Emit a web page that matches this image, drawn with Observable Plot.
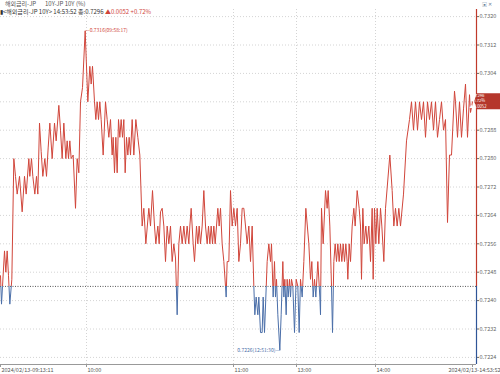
<!DOCTYPE html>
<html><head><meta charset="utf-8">
<script src="https://cdn.jsdelivr.net/npm/d3@7"></script>
<script src="https://cdn.jsdelivr.net/npm/@observablehq/plot@0.6"></script>
<style>
body{margin:0;background:#fff;font-family:"Noto Sans CJK KR","Noto Sans",sans-serif;}
#wrap{position:relative;width:500px;height:374px;overflow:hidden;}
.hdr{position:absolute;font-size:6px;color:#555;white-space:nowrap;line-height:7px;}
.up{color:#d0453a;}
</style></head><body>
<div id="wrap">
  <div class="hdr" style="left:5px;top:0px;">해외금리-JP</div>
  <div class="hdr" style="left:45px;top:0px;">10Y-JP 10Y (%)</div>
  <div class="hdr" style="left:0px;top:8px;color:#333;">▮&lt;해외금리-JP 10Y&gt; 14:53:52 종:0.7296 <span class="up">▲0.0052</span> <span class="up">+0.72%</span></div>
  <div class="hdr" style="left:482px;top:0px;color:#6a7f99;font-size:5px;">▣ ✕</div>
</div>
<script>
// tick sequence number (order of quotes along the ordinal time axis)
const seq = [0,3,6,12,16,20,24,28,34,40,45,50,57,65,72,77,85,88,93,97,103,108,112,117,122,127,133,138,143,148,155,162,167,175,180,185,190,196,200,204,208,212,218,225,230,235,
240,246,254,262,268,272,276,282,286,290,294,298,302,308,315,320,325,330,335,338,342,346,350,354,358,362,366,370,374,378,382,386,390,395,400,406,412,418,425,430,436,445,450,456,462,466,472,476,
480,485,490,495,500,505,510,515,520,525,530,535,540,545,550,555,560,565,568,572,578,582,588,592,596,600,605,610,615,620,624,628,632,636,640,644,648,652,656,660,665,670,675,677,680,685,690,695,700,705,710,715,
720,725,730,735,740,745,750,755,760,763,767,772,775,780,785,788,792,800,805,810,813,818,822,825,828,832,838,842,847,850,853,857,860,863,867,870,873,877,882,887,892,896,900,905,910,916,925,930,934,938,942,946,952,958,
960,963,968,975,980,983,988,993,996,1000,1004,1008,1012,1016,1020,1024,1028,1032,1036,1040,1042,1046,1050,1055,1060,1064,1070,1076,1080,1083,1087,1091,1096,1100,1105,1110,1115,1118,1122,1126,1130,1135,1140,1144,1150,1155,1168,1175,1180,1185,1190,1195,1200,
1209,1218,1227,1233,1239,1245,1251,1257,1263,1269,1275,1281,1287,1293,1299,1305,1311,1317,1323,1329,1335,1341,1347,1353,1362,1365,1371,1377,1383,1389,1395,1401,1407,1410,1416];
// 10Y yield (%)
const yieldVals = [0.7247,0.7239,0.7244,0.7254,0.7248,0.7254,0.7247,0.7239,0.7246,0.7280,0.7275,0.7270,0.7275,0.7265,0.7275,0.7270,0.7280,0.7275,0.7280,0.7275,0.7270,0.7275,0.7270,0.7290,0.7282,0.7275,0.7280,0.7275,0.7283,0.7290,0.7280,0.7290,0.7285,0.7295,0.7288,0.7280,0.7290,0.7280,0.7285,0.7280,0.7285,0.7280,0.7281,0.7266,0.7280,0.7276,
0.7296,0.7300,0.7316,0.7296,0.7306,0.7301,0.7306,0.7296,0.7291,0.7296,0.7291,0.7296,0.7291,0.7281,0.7296,0.7291,0.7286,0.7291,0.7281,0.7286,0.7276,0.7286,0.7276,0.7291,0.7286,0.7291,0.7286,0.7291,0.7276,0.7286,0.7281,0.7286,0.7281,0.7291,0.7281,0.7291,0.7286,0.7281,0.7261,0.7266,0.7256,0.7266,0.7261,0.7271,0.7261,0.7256,0.7261,0.7256,
0.7265,0.7266,0.7261,0.7251,0.7261,0.7256,0.7261,0.7251,0.7256,0.7252,0.7236,0.7256,0.7261,0.7256,0.7261,0.7256,0.7261,0.7256,0.7261,0.7266,0.7256,0.7251,0.7261,0.7256,0.7261,0.7256,0.7261,0.7271,0.7261,0.7256,0.7261,0.7256,0.7261,0.7256,0.7261,0.7256,0.7261,0.7266,0.7261,0.7266,0.7256,0.7251,0.7244,0.7241,0.7251,0.7251,0.7271,0.7261,0.7266,0.7261,0.7266,0.7251,
0.7256,0.7266,0.7266,0.7261,0.7256,0.7261,0.7251,0.7261,0.7244,0.7236,0.7241,0.7236,0.7241,0.7231,0.7231,0.7241,0.7231,0.7251,0.7256,0.7251,0.7256,0.7241,0.7251,0.7241,0.7246,0.7236,0.7226,0.7236,0.7251,0.7241,0.7246,0.7236,0.7246,0.7241,0.7246,0.7241,0.7246,0.7244,0.7231,0.7246,0.7244,0.7231,0.7246,0.7241,0.7251,0.7266,0.7256,0.7246,0.7251,0.7241,0.7246,0.7241,0.7251,0.7241,
0.7236,0.7266,0.7256,0.7271,0.7266,0.7271,0.7261,0.7244,0.7231,0.7251,0.7256,0.7251,0.7256,0.7251,0.7256,0.7251,0.7256,0.7251,0.7256,0.7251,0.7246,0.7256,0.7251,0.7261,0.7266,0.7261,0.7271,0.7266,0.7261,0.7246,0.7266,0.7256,0.7261,0.7256,0.7261,0.7251,0.7266,0.7246,0.7266,0.7256,0.7266,0.7256,0.7266,0.7261,0.7251,0.7266,0.7281,0.7271,0.7261,0.7266,0.7261,0.7266,0.7261,
0.7270,0.7285,0.7291,0.7296,0.7288,0.7296,0.7288,0.7296,0.7291,0.7296,0.7286,0.7296,0.7291,0.7296,0.7288,0.7296,0.7286,0.7291,0.7296,0.7288,0.7291,0.7262,0.7281,0.7281,0.7299,0.7296,0.7286,0.7296,0.7286,0.7294,0.7301,0.7286,0.7298,0.7293,0.7296];

const prevClose = 0.7244;
const lastInfo = ["0.7296", "+0.72%", "▲0.0052"];
const maxTime = "09:58:17";
const minTime = "12:51:30";
const xTickSeq = [0, 258, 699, 888, 1125, 1416];
const xTickLabels = ["2024/02/13-09:13:11", "10:00", "11:00", "13:00", "14:00", "2024/02/13-14:53:52"];
const yTicks = [0.7224, 0.7232, 0.7240, 0.7248, 0.7256, 0.7264, 0.7272, 0.7280, 0.7288, 0.7296, 0.7304, 0.7312, 0.7320];

const RED = "#d0453a", BLUE = "#4a6ea8", AXRED = "#c0392b", AXBLUE = "#2f5597";
const data = seq.map((s, i) => ({s, v: yieldVals[i]}));
const iMax = d3.maxIndex(yieldVals), iMin = d3.minIndex(yieldVals);
const lastV = yieldVals[yieldVals.length - 1];
const xMax = 1428, yLo = 0.7222, yHi = 0.7322;
const fmt = d3.format(".4f");
// the current-value badge hides the tick label it sits on
const labelTicks = yTicks.filter(t => Math.abs(t - lastV) > 0.0003);

const plot = Plot.plot({
  width: 500, height: 374,
  marginLeft: 0, marginRight: 24, marginTop: 9, marginBottom: 10,
  x: {domain: [0, xMax], axis: null},
  y: {domain: [yLo, yHi], axis: null},
  style: {fontFamily: "'Noto Sans CJK KR','Noto Sans',sans-serif", fontSize: "5.5px", background: "transparent", overflow: "visible"},
  marks: [
    Plot.ruleY(yTicks, {stroke: "#d4d4d4", strokeDasharray: "1,2"}),
    Plot.ruleX(xTickSeq.slice(1, 5), {stroke: "#d4d4d4", strokeDasharray: "1,2"}),
    Plot.ruleY([prevClose], {stroke: "#555", strokeDasharray: "1,1.5"}),
    Plot.line(data, {x: "s", y: "v", stroke: "url(#splitGrad)", strokeWidth: 1}),
    // right axis line, coloured above/below previous close
    Plot.ruleX([xMax], {y1: prevClose, y2: yHi, stroke: AXRED, strokeWidth: 1.2}),
    Plot.ruleX([xMax], {y1: yLo, y2: prevClose, stroke: AXBLUE, strokeWidth: 1.2}),
    Plot.axisY(labelTicks, {anchor: "right", tickSize: 2, tickPadding: 1, tickFormat: fmt, color: "#666", fontSize: 5.5, label: null}),
    // bottom axis
    Plot.ruleY([yLo], {stroke: "#999"}),
    Plot.axisX(xTickSeq, {anchor: "bottom", tickSize: 3, tickFormat: () => "", stroke: "#999", label: null}),
    Plot.text(xTickSeq.slice(0, 5), {x: d => d, y: yLo, text: (d, i) => xTickLabels[i], textAnchor: "start", dy: 6, dx: 1, fill: "#555", fontSize: 5.5}),
    Plot.text([xTickSeq[5]], {x: d => d, y: yLo, text: () => xTickLabels[5], textAnchor: "end", dy: 6, dx: 28, fill: "#555", fontSize: 5.5}),
    // max / min annotations
    Plot.text([data[iMax]], {x: "s", y: "v", text: d => "—" + fmt(d.v) + "(" + maxTime + ")", textAnchor: "start", dx: 0, fill: RED, fontSize: 5}),
    Plot.text([data[iMin]], {x: "s", y: "v", text: d => fmt(d.v) + "(" + minTime + ")—", textAnchor: "end", dx: 0, fill: BLUE, fontSize: 5})
  ]
});

// two-colour gradient split exactly at previous close
const yc = plot.scale("y").apply(prevClose);
const ns = "http://www.w3.org/2000/svg";
const defs = document.createElementNS(ns, "defs");
defs.innerHTML = `<linearGradient id="splitGrad" gradientUnits="userSpaceOnUse" x1="0" x2="0" y1="0" y2="374">
  <stop offset="${yc / 374}" stop-color="${RED}"/><stop offset="${yc / 374}" stop-color="${BLUE}"/></linearGradient>`;
plot.insertBefore(defs, plot.firstChild);

// current value badge on right axis
const yl = plot.scale("y").apply(lastV);
const xl = plot.scale("x").apply(xMax);
const g = document.createElementNS(ns, "g");
g.innerHTML = `<path d="M${xl - 2},${yl} L${xl + 1},${yl - 8} L${xl + 25},${yl - 8} L${xl + 25},${yl + 8} L${xl + 1},${yl + 8} Z" fill="#b5372c"/>` +
  lastInfo.map((t, i) => `<text x="${xl + 2}" y="${yl - 5.2 + i * 5.2}" fill="#fff" font-size="4.2" dominant-baseline="middle">${t}</text>`).join("");
plot.appendChild(g);

plot.style.position = "absolute"; plot.style.left = "0"; plot.style.top = "0";
document.getElementById("wrap").prepend(plot);
</script>
</body></html>
